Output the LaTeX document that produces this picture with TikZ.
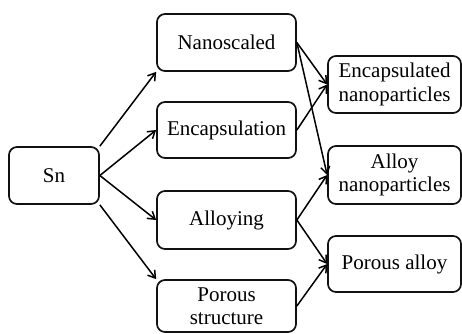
\documentclass[tikz,border=0pt]{standalone}
\usepackage{fontspec}
\setmainfont{Liberation Serif}
\usetikzlibrary{arrows.meta}
\definecolor{boxline}{HTML}{111111}

\begin{document}
\begin{tikzpicture}[x=1pt,y=-1pt,font=\rmfamily\fontsize{21}{23.5}\selectfont,
 stage/.style={draw=boxline,line width=1.7pt,rounded corners=8pt,align=center,inner sep=0pt},
 link/.style={-{Straight Barb[length=7pt,width=9pt]},line width=1.5pt}]
\useasboundingbox (0,0) rectangle (462,333);
\node[stage,minimum width=90pt,minimum height=57pt] (sn) at (54,175.5) {Sn};
\foreach \y/\h/\name/\txt in {42.5/57/nano/Nanoscaled,130/56/encap/Encapsulation,220/58/alloying/Alloying,306/52/porous/{Porous\\structure}} {
 \node[stage,minimum width=139pt,minimum height=\h pt] (\name) at (226.5,\y) {\txt};
}
\foreach \y/\h/\name/\txt in {84.5/57/encnano/{Encapsulated\\nanoparticles},175/58/alloynano/{Alloy\\nanoparticles},264/56/porousalloy/{Porous alloy}} {
 \node[stage,minimum width=133pt,minimum height=\h pt] (\name) at (394.5,\y) {\txt};
}
\foreach \a/\b in {sn.north east/nano.south west,sn.east/encap.west,sn.east/alloying.west,sn.south east/porous.north west,
 nano.east/encnano.west,nano.east/alloynano.west,encap.east/encnano.west,alloying.east/alloynano.west,alloying.east/porousalloy.west,porous.east/porousalloy.west} {
 \draw[link] (\a) -- (\b);
}
\end{tikzpicture}
\end{document}
